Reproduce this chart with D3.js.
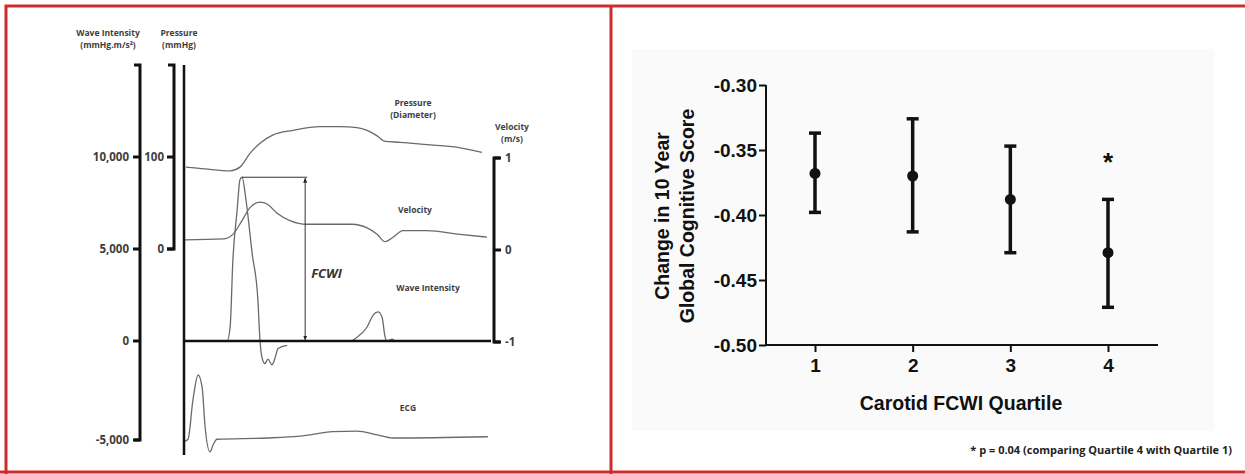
<!DOCTYPE html>
<html>
<head>
<meta charset="utf-8">
<script src="https://cdn.jsdelivr.net/npm/d3@7"></script>
<style>
  body { margin: 0; background: #fff; }
  svg { display: block; }
</style>
</head>
<body>
<svg id="chart" width="1245" height="474"></svg>
<script>
// ---- left panel: traces (time in ms) ----
var pressureT = [3, 66, 148, 180, 213, 246, 289, 354, 443, 508, 564, 597, 630, 656, 705, 814, 902, 974];
var pressureV = [89, 87, 85, 89, 104, 115, 124, 129, 133, 133, 132, 129, 123, 117, 116, 113, 110, 105];

var velocityT = [0, 125, 157, 187, 213, 246, 269, 302, 344, 400, 476, 548, 597, 630, 656, 679, 715, 794, 902, 990];
var velocityV = [0.11, 0.12, 0.17, 0.32, 0.46, 0.52, 0.50, 0.40, 0.32, 0.28, 0.28, 0.28, 0.24, 0.17, 0.09, 0.13, 0.21, 0.21, 0.17, 0.14];

// null = gap in the recorded trace
var wiT = [0, 138, 148, 157, 171, 180, 187, 200, 220, 239, 246, 253, 262, 272, 285, 295, 305, 335, 400,
           520, 541, 564, 597, 617, 633, 646, 656, 663, 679, 689, 720];
var wiV = [0, 0, 760, 4400, 7120, 8750, 8900, 7660, 4780, 2230, 0, -870, -1140, -920, -1200, -870, -380, -220, null,
           0, 0, 200, 760, 1410, 1580, 1300, 220, 0, 100, 0, 0];

var ecgT = [0, 10, 26, 43, 56, 66, 82, 92, 105, 269, 377, 485, 564, 630, 682, 993];
var ecgV = [-0.05, -0.02, 0.6, 1.0, 0.81, 0.17, -0.22, -0.11, -0.02, 0, 0.03, 0.1, 0.11, 0.05, 0, 0.02];

var wiTicks = [10000, 5000, 0, -5000];
var wiTickLabels = ["10,000", "5,000", "0", "-5,000"];
var pressureTicks = [100, 0];
var velocityTicks = [1, 0, -1];
var fcwiPeak = { t: 187, v: 8900, arrowT: 394 };

// ---- right panel ----
var quartiles = ["1", "2", "3", "4"];
var meanScore = [-0.368, -0.370, -0.388, -0.429];
var upperScore = [-0.337, -0.326, -0.347, -0.388];
var lowerScore = [-0.398, -0.413, -0.429, -0.471];
var scoreTicks = [-0.30, -0.35, -0.40, -0.45, -0.50];
var starQuartile = "4", starScore = -0.357;

var svg = d3.select("#chart");
var red = "#c9302c";
var traceColor = "#6a6a6a";
var textGrey = "#3e3e3e";

// ---------------- LEFT PANEL ----------------
var left = svg.append("g");

var x = d3.scaleLinear().domain([0, 1000]).range([185, 490]);
var yWI = d3.scaleLinear().domain([-5000, 0, 15000]).range([440, 341, 65]);
var yP = d3.scaleLinear().domain([0, 200]).range([249, 65]);
var yV = d3.scaleLinear().domain([-1, 1]).range([342, 158]);
var yE = d3.scaleLinear().domain([0, 1]).range([438, 375]);

// traces
function trace(ts, vs, yScale){
  var pts = ts.map(function(t, i){ return [t, vs[i]]; });
  left.append("path")
    .datum(pts)
    .attr("fill", "none")
    .attr("stroke", traceColor)
    .attr("stroke-width", 1.3)
    .attr("d", d3.line()
      .defined(function(d){ return d[1] !== null; })
      .curve(d3.curveMonotoneX)
      .x(function(d){ return x(d[0]); })
      .y(function(d){ return yScale(d[1]); }));
}
trace(pressureT, pressureV, yP);
trace(velocityT, velocityV, yV);
trace(wiT, wiV, yWI);
trace(ecgT, ecgV, yE);

// wave intensity axis (bracket, ticks left)
left.append("path")
  .attr("d", "M" + (140 - 6) + "," + yWI(15000) + "H140V" + yWI(-5000) + "H" + (140 - 6))
  .attr("fill", "none").attr("stroke", "#111").attr("stroke-width", 3);
left.selectAll(".wiTick").data(wiTicks).enter().append("line")
  .attr("x1", 133).attr("x2", 140)
  .attr("y1", function(d){ return yWI(d); }).attr("y2", function(d){ return yWI(d); })
  .attr("stroke", "#111").attr("stroke-width", 3);
left.selectAll(".wiLab").data(wiTicks).enter().append("text")
  .attr("x", 129).attr("y", function(d){ return yWI(d) + 4; })
  .attr("text-anchor", "end")
  .attr("font-family", "Open Sans").attr("font-weight", 700).attr("font-size", 11.5)
  .attr("fill", textGrey)
  .text(function(d, i){ return wiTickLabels[i]; });

// pressure axis
left.append("path")
  .attr("d", "M" + (174 - 6) + "," + yP(200) + "H174V" + yP(0) + "H" + (174 - 7))
  .attr("fill", "none").attr("stroke", "#111").attr("stroke-width", 3);
left.selectAll(".pTick").data(pressureTicks).enter().append("line")
  .attr("x1", 167).attr("x2", 174)
  .attr("y1", function(d){ return yP(d); }).attr("y2", function(d){ return yP(d); })
  .attr("stroke", "#111").attr("stroke-width", 3);
left.selectAll(".pLab").data(pressureTicks).enter().append("text")
  .attr("x", 164).attr("y", function(d){ return yP(d) + 4; })
  .attr("text-anchor", "end")
  .attr("font-family", "Open Sans").attr("font-weight", 700).attr("font-size", 11.5)
  .attr("fill", textGrey)
  .text(function(d){ return d; });

// main time axis (vertical) and zero baseline
left.append("line").attr("x1", 184).attr("x2", 184).attr("y1", 65).attr("y2", 455)
  .attr("stroke", "#111").attr("stroke-width", 2.5);
left.append("line").attr("x1", 184).attr("x2", 491).attr("y1", yWI(0)).attr("y2", yWI(0))
  .attr("stroke", "#111").attr("stroke-width", 2.5);

// velocity axis (ticks right)
left.append("path")
  .attr("d", "M" + (494 + 6) + "," + yV(1) + "H494V" + yV(-1) + "H" + (494 + 6))
  .attr("fill", "none").attr("stroke", "#111").attr("stroke-width", 3);
left.selectAll(".vTick").data(velocityTicks).enter().append("line")
  .attr("x1", 494).attr("x2", 501)
  .attr("y1", function(d){ return yV(d); }).attr("y2", function(d){ return yV(d); })
  .attr("stroke", "#111").attr("stroke-width", 3);
left.selectAll(".vLab").data(velocityTicks).enter().append("text")
  .attr("x", 505).attr("y", function(d){ return yV(d) + 4; })
  .attr("font-family", "Open Sans").attr("font-weight", 700).attr("font-size", 11.5)
  .attr("fill", textGrey)
  .text(function(d){ return d; });

// FCWI annotation
var defs = svg.append("defs");
defs.append("marker").attr("id", "arr").attr("viewBox", "0 0 10 10")
  .attr("refX", 9).attr("refY", 5).attr("markerWidth", 5).attr("markerHeight", 5)
  .attr("orient", "auto-start-reverse")
  .append("path").attr("d", "M0,1L10,5L0,9Z").attr("fill", "#222");
left.append("line")
  .attr("x1", x(fcwiPeak.t)).attr("x2", x(fcwiPeak.arrowT) + 2)
  .attr("y1", yWI(fcwiPeak.v)).attr("y2", yWI(fcwiPeak.v))
  .attr("stroke", "#333").attr("stroke-width", 1);
left.append("line")
  .attr("x1", x(fcwiPeak.arrowT)).attr("x2", x(fcwiPeak.arrowT))
  .attr("y1", yWI(0) - 1).attr("y2", yWI(fcwiPeak.v) + 1)
  .attr("stroke", "#333").attr("stroke-width", 1)
  .attr("marker-start", "url(#arr)").attr("marker-end", "url(#arr)");
left.append("text")
  .attr("x", x(fcwiPeak.arrowT) + 6).attr("y", yWI(3700) + 5)
  .attr("font-family", "Open Sans").attr("font-weight", 700).attr("font-style", "italic")
  .attr("font-size", 13).attr("fill", "#333")
  .text("FCWI");

// labels
function label(lines, cx, cy, size){
  var t = left.append("text")
    .attr("text-anchor", "middle")
    .attr("font-family", "Open Sans").attr("font-weight", 700)
    .attr("font-size", size || 8.5).attr("fill", textGrey);
  lines.forEach(function(s, i){
    t.append("tspan").attr("x", cx).attr("y", cy + i * 11.5).text(s);
  });
}
label(["Wave Intensity", "(mmHg.m/s\u00B2)"], 108, 36);
label(["Pressure", "(mmHg)"], 179, 36);
label(["Pressure", "(Diameter)"], 413, 106);
label(["Velocity", "(m/s)"], 512, 130);
label(["Velocity"], 415, 213);
label(["Wave Intensity"], 428, 291);
label(["ECG"], 408, 411);

// ---------------- RIGHT PANEL ----------------
var right = svg.append("g");
right.append("rect").attr("x", 632).attr("y", 49).attr("width", 582).attr("height", 382)
  .attr("fill", "#fafafa");

var xq = d3.scalePoint().domain(quartiles).range([815, 1108]);
var ys = d3.scaleLinear().domain([-0.50, -0.30]).range([345, 85]);

var yAxis = d3.axisLeft(ys).tickValues(scoreTicks)
  .tickFormat(function(d){ return d.toFixed(2); })
  .tickSize(7).tickSizeOuter(0);
var gy = right.append("g").attr("transform", "translate(766,0)").call(yAxis);
gy.select(".domain").attr("stroke", "#111").attr("stroke-width", 2).attr("d", "M0," + ys(-0.30) + "V" + ys(-0.50));
gy.selectAll(".tick line").attr("stroke", "#111").attr("stroke-width", 2);
gy.selectAll(".tick text")
  .attr("font-family", "Arial, Liberation Sans").attr("font-weight", "bold").attr("font-size", 19)
  .attr("fill", "#111").attr("x", -9).attr("dy", "0.35em");

var xAxis = d3.axisBottom(xq).tickSize(7).tickSizeOuter(0);
var gx = right.append("g").attr("transform", "translate(0," + ys(-0.50) + ")").call(xAxis);
gx.select(".domain").attr("stroke", "#111").attr("stroke-width", 2).attr("d", "M765,0H1158");
gx.selectAll(".tick line").attr("stroke", "#111").attr("stroke-width", 2);
gx.selectAll(".tick text")
  .attr("font-family", "Arial, Liberation Sans").attr("font-weight", "bold").attr("font-size", 19)
  .attr("fill", "#111").attr("y", 14);

// error bars
var bars = right.selectAll(".eb").data(quartiles).enter().append("g");
bars.append("line")
  .attr("x1", function(d){ return xq(d); }).attr("x2", function(d){ return xq(d); })
  .attr("y1", function(d, i){ return ys(upperScore[i]); })
  .attr("y2", function(d, i){ return ys(lowerScore[i]); })
  .attr("stroke", "#111").attr("stroke-width", 3.5);
[upperScore, lowerScore].forEach(function(arr){
  bars.append("line")
    .attr("x1", function(d){ return xq(d) - 6; }).attr("x2", function(d){ return xq(d) + 6; })
    .attr("y1", function(d, i){ return ys(arr[i]); })
    .attr("y2", function(d, i){ return ys(arr[i]); })
    .attr("stroke", "#111").attr("stroke-width", 3.5);
});
bars.append("circle")
  .attr("cx", function(d){ return xq(d); })
  .attr("cy", function(d, i){ return ys(meanScore[i]); })
  .attr("r", 5.5).attr("fill", "#111");

right.append("text")
  .attr("x", xq(starQuartile)).attr("y", ys(starScore) + 12)
  .attr("text-anchor", "middle")
  .attr("font-family", "Arial, Liberation Sans").attr("font-weight", "bold").attr("font-size", 26)
  .attr("fill", "#111").text("*");

right.append("text")
  .attr("x", 961).attr("y", 410)
  .attr("text-anchor", "middle")
  .attr("font-family", "Arial, Liberation Sans").attr("font-weight", "bold").attr("font-size", 19.5)
  .attr("fill", "#111").text("Carotid FCWI Quartile");

var yl = right.append("text")
  .attr("transform", "translate(0,216) rotate(-90)")
  .attr("text-anchor", "middle")
  .attr("font-family", "Arial, Liberation Sans").attr("font-weight", "bold").attr("font-size", 19.5)
  .attr("fill", "#111");
yl.append("tspan").attr("x", 0).attr("y", 669).text("Change in 10 Year");
yl.append("tspan").attr("x", 0).attr("y", 694).text("Global Cognitive Score");

right.append("text")
  .attr("x", 1232).attr("y", 454)
  .attr("text-anchor", "end")
  .attr("font-family", "Open Sans").attr("font-weight", 700).attr("font-size", 11)
  .attr("fill", "#222")
  .text("* p = 0.04 (comparing Quartile 4 with Quartile 1)");

// ---------------- red frames ----------------
svg.append("path")
  .attr("d", "M6,474V6H1245M611,6V474M0,472H1245")
  .attr("fill", "none").attr("stroke", red).attr("stroke-width", 3);
</script>
</body>
</html>
